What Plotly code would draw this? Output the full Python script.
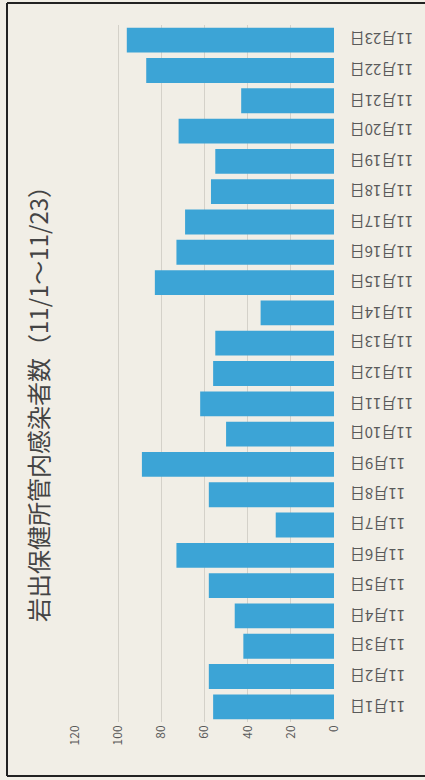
import plotly.graph_objects as go

dates = ["11月1日", "11月2日", "11月3日", "11月4日", "11月5日", "11月6日", "11月7日",
         "11月8日", "11月9日", "11月10日", "11月11日", "11月12日", "11月13日", "11月14日",
         "11月15日", "11月16日", "11月17日", "11月18日", "11月19日", "11月20日",
         "11月21日", "11月22日", "11月23日"]
cases = [56, 58, 42, 46, 58, 73, 27, 58, 89, 50, 62, 56, 55, 34, 83, 73, 69, 57, 55, 72, 43, 87, 96]
value_ticks = [0, 20, 40, 60, 80, 100, 120]
title_text = "岩出保健所管内感染者数（11/1～11/23）"

W, H = 425, 780
L, R, T, B = 75, 91, 25, 58
pw, ph = W - L - R, H - T - B

def px_x(x):
    return (x - L) / pw

def px_y(y):
    return (H - B - y) / ph

font_jp = "Noto Sans CJK JP, Noto Sans, sans-serif"
label_color = "#5a5a5a"

fig = go.Figure(go.Bar(
    x=cases, y=dates, orientation="h",
    marker=dict(color="#3ca4d6", line=dict(width=0)),
))

# category labels (upside-down, as in the scanned chart)
annotations = [dict(
    text=d, xref="paper", yref="y", x=px_x(348), y=d, xanchor="left", yanchor="middle",
    showarrow=False, textangle=180,
    font=dict(family=font_jp, size=15, color=label_color),
) for d in dates]

annotations.append(dict(
    text=title_text, xref="paper", yref="paper",
    x=px_x(37), y=px_y(398), xanchor="center", yanchor="middle",
    showarrow=False, textangle=-90,
    font=dict(family=font_jp, size=24, color="#444444"),
))

border = dict(color="#222222", width=2)
x_left, x_right = px_x(7), px_x(460)
y_top, y_bot = px_y(3), px_y(776)
shapes = [
    dict(type="line", xref="paper", yref="paper", x0=x_left, x1=x_right, y0=y_top, y1=y_top, line=border),
    dict(type="line", xref="paper", yref="paper", x0=x_left, x1=x_right, y0=y_bot, y1=y_bot, line=border),
    dict(type="line", xref="paper", yref="paper", x0=x_left, x1=x_left, y0=y_bot, y1=y_top, line=border),
]

fig.update_layout(
    width=W, height=H,
    margin=dict(l=L, r=R, t=T, b=B, autoexpand=False),
    paper_bgcolor="#f1eee6",
    plot_bgcolor="#f1eee6",
    bargap=0.18,
    showlegend=False,
    xaxis=dict(
        range=[120, 0], tickvals=value_ticks, ticktext=[str(v) for v in value_ticks],
        tickangle=-90, showgrid=True, gridcolor="#d4d1c9", gridwidth=1,
        zeroline=False, showline=False, ticks="",
        tickfont=dict(family=font_jp, size=12, color=label_color),
    ),
    yaxis=dict(
        side="right", showticklabels=False, showgrid=False, zeroline=False, showline=False,
        ticks="", categoryorder="array", categoryarray=dates,
    ),
    annotations=annotations,
    shapes=shapes,
)

fig.write_html("out.html", config={"displayModeBar": False},
               post_script="document.body.style.margin='0';")
